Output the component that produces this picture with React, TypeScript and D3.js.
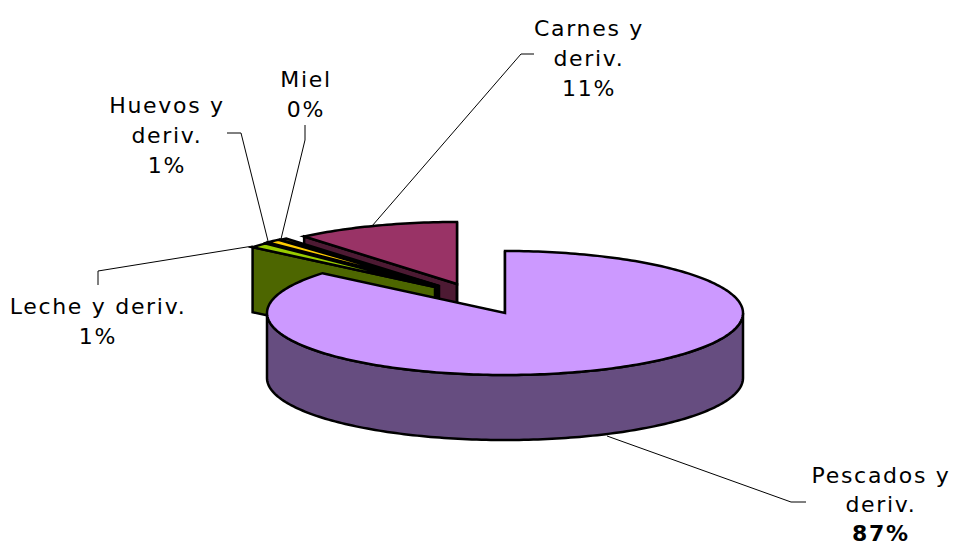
import React from "react";
import * as d3 from "d3";

const categories = ["Pescados y deriv.", "Leche y deriv.", "Huevos y deriv.", "Miel", "Carnes y deriv."];
const values = [86.1, 1.3, 1.0, 0.5, 11.1];
const percentLabels = ["87%", "1%", "1%", "0%", "11%"];
const topColors = ["#CC99FF", "#99CC00", "#FFCC00", "#FFCC00", "#993366"];
const sideColors = ["#664D80", "#4D6600", "#806600", "#806600", "#4D1A33"];
const labelLines = [
  ["Pescados y", "deriv."],
  ["Leche y deriv."],
  ["Huevos y", "deriv."],
  ["Miel"],
  ["Carnes y", "deriv."],
];
const explodeX = [0, -70, -68, -66, -48];
const explodeY = [0, -26, -27, -27, -29];
const labelX = [881, 98, 167, 306, 589];
const labelY = [483, 314, 113, 87, 36];
const lineGap = [29, 30, 30, 30, 30];
const leaderPoints: [number, number][][] = [
  [[607, 436], [791, 502], [806, 502]],
  [[253, 246], [98, 271], [98, 285]],
  [[268, 241], [241, 133], [227, 133]],
  [[281, 239], [305, 140], [305, 125]],
  [[372, 226], [521, 54], [534, 54]],
];

const cx = 505, cy = 313, rx = 238, ry = 62, depth = 65;
const slices = d3.pie<number>().sort(null).startAngle(0).endAngle(2 * Math.PI)(values);
const ellipseX = d3.scaleLinear().domain([-1, 1]).range([-rx, rx]);
const ellipseY = d3.scaleLinear().domain([-1, 1]).range([-ry, ry]);
const pt = (a: number) => [ellipseX(Math.sin(a)), ellipseY(-Math.cos(a))];

function rimPath(a0: number, a1: number, dy: number) {
  const n = Math.max(2, Math.ceil((a1 - a0) / 0.02));
  return d3.range(n + 1).map((i) => {
    const [x, y] = pt(a0 + ((a1 - a0) * i) / n);
    return [x, y + dy] as [number, number];
  });
}
const line = d3.line();

export default function App() {
  const order = [4, 3, 2, 1, 0];
  return (
    <svg width={953} height={543} style={{ position: "absolute", left: 0, top: 0, background: "#fff" }} fontFamily="'DejaVu Sans', Verdana, sans-serif">
      {order.map((i) => {
        const s = slices[i];
        const ox = cx + explodeX[i], oy = cy + explodeY[i];
        const top = rimPath(s.startAngle, s.endAngle, 0);
        const topD = line([[0, 0], ...top, [0, 0]])! + "Z";
        const [sx, sy] = pt(s.startAngle);
        const [ex, ey] = pt(s.endAngle);
        const wall = (x: number, y: number) => line([[0, 0], [x, y], [x, y + depth], [0, depth]])! + "Z";
        const a0 = Math.max(s.startAngle, Math.PI / 2);
        const a1 = Math.min(s.endAngle, (3 * Math.PI) / 2);
        const outer = a1 > a0 ? [...rimPath(a0, a1, 0), ...rimPath(a0, a1, depth).reverse()] : null;
        return (
          <g key={i} transform={`translate(${ox},${oy})`} stroke="#000" strokeWidth={2.5} strokeLinejoin="miter">
            {Math.sin(s.startAngle) < 1e-6 && <path d={wall(sx, sy)} fill={sideColors[i]} />}
            {Math.sin(s.endAngle) > -1e-6 && <path d={wall(ex, ey)} fill={sideColors[i]} />}
            {outer && <path d={line(outer)! + "Z"} fill={sideColors[i]} />}
            <path d={topD} fill={topColors[i]} />
          </g>
        );
      })}
      {leaderPoints.map((p, i) => (
        <path key={i} d={line(p)!} fill="none" stroke="#000" strokeWidth={1} />
      ))}
      {categories.map((c, i) => (
        <text key={c} x={labelX[i]} y={labelY[i]} textAnchor="middle" fontSize={22} fill="#000" letterSpacing={1.7}>
          {labelLines[i].map((t, j) => (
            <tspan key={j} x={labelX[i]} dy={j === 0 ? 0 : lineGap[i]}>{t}</tspan>
          ))}
          <tspan x={labelX[i]} dy={lineGap[i]} fontWeight={i === 0 ? 700 : 400}>{percentLabels[i]}</tspan>
        </text>
      ))}
    </svg>
  );
}
